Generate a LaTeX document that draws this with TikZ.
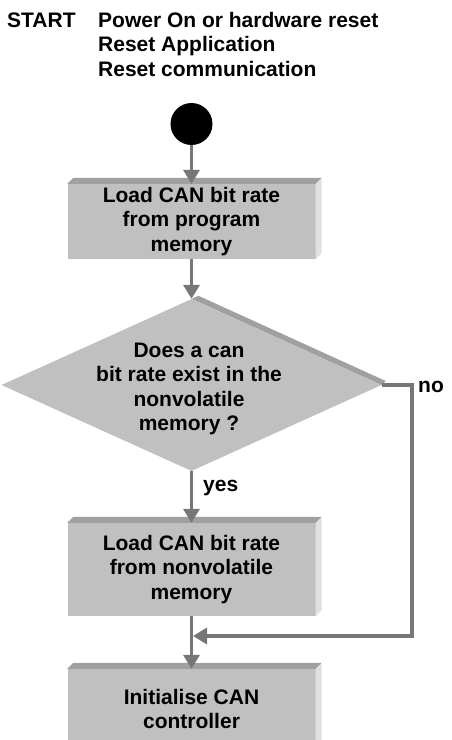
\documentclass[tikz,border=0pt]{standalone}
\usepackage{fontspec}
\setmainfont{Liberation Sans}
\usetikzlibrary{arrows.meta,shapes.geometric}
\definecolor{frontgray}{HTML}{C0C0C0}
\definecolor{topgray}{HTML}{A0A0A0}
\definecolor{sidegray}{HTML}{E0E0E0}
\definecolor{arrowgray}{HTML}{777777}

\begin{document}
\begin{tikzpicture}[x=1pt,y=-1pt,
    every node/.style={font=\bfseries\fontsize{21}{24.5}\selectfont},
    stepbox/.style={fill=frontgray,minimum width=248,minimum height=#1,inner sep=0pt,align=center},
    flow/.style={draw=arrowgray,line width=3.5pt,-{Triangle[width=16pt,length=14pt]}}]
  \useasboundingbox (0,0) rectangle (451,740);
  \node[anchor=base west,inner sep=0pt] (tag) at (7,27) {START};
  \node[anchor=north west,inner sep=0pt,align=left] (cause) at (98,12)
    {Power On or hardware reset\\Reset Application\\Reset communication};
  \node[circle,fill=black,minimum size=42,inner sep=0pt] (dot) at (191.5,124) {};
  \node[stepbox=75] (loadpm) at (191.5,221.5) {Load CAN bit rate\\from program\\memory};
  \node[diamond,fill=frontgray,minimum width=380,minimum height=172,inner sep=0pt] (ask) at (191.5,385) {};
  \node[inner sep=0pt,align=center] (asktext) at (189,389) {Does a can\\bit rate exist in the\\nonvolatile\\memory ?};
  \node[stepbox=93] (loadnv) at (191.5,569.5) {Load CAN bit rate\\from nonvolatile\\memory};
  \node[stepbox=80] (init) at (191.5,709) {Initialise CAN\\controller};
  \coordinate (noturn) at (412,636);
  % 3d faces
  \foreach \b in {loadpm,loadnv,init} {
    \fill[topgray] (\b.north west) -- ++(6,-6) -- ([shift={(6,-6)}]\b.north east) -- (\b.north east) -- cycle;
    \fill[sidegray] (\b.north east) -- ++(6,-6) -- ([shift={(6,-6)}]\b.south east) -- (\b.south east) -- cycle;
  }
  \fill[topgray] (ask.north) -- ++(7,-3) -- ([shift={(4,-4)}]ask.east) -- (ask.east) -- cycle;
  % connectors
  \draw[flow] (dot) -- (loadpm.north);
  \draw[flow] (loadpm) -- (ask.north);
  \draw[flow] (ask.south) -- (loadnv.north);
  \draw[flow] (loadnv) -- (init);
  \draw[flow,shorten >=1.5pt] (ask.east) -| (noturn) -- (noturn -| loadnv.south);
  \node[anchor=base west,inner sep=0pt] (nolbl) at (418,392) {no};
  \node[anchor=base west,inner sep=0pt] (yeslbl) at (203,491) {yes};
\end{tikzpicture}
\end{document}
